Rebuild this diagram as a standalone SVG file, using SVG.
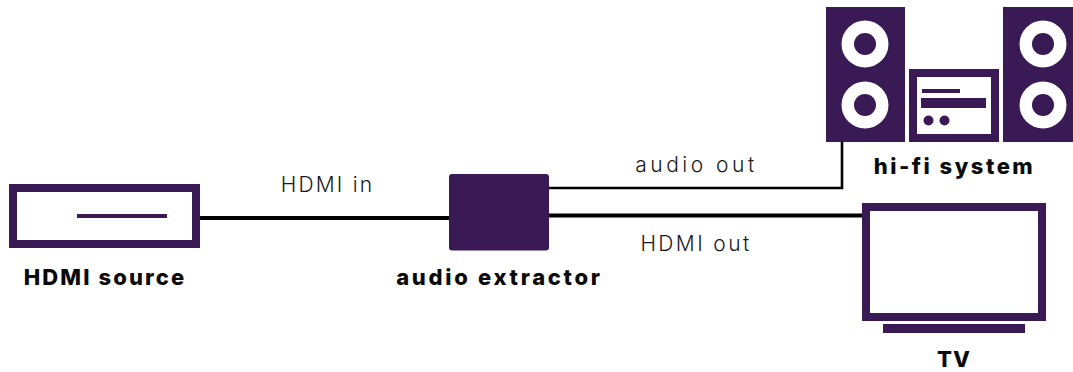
<svg xmlns="http://www.w3.org/2000/svg" width="1073" height="372" viewBox="0 0 1073 372">
<style>
.p{fill:#3a1a54}
.w{fill:#fff}
.f{fill:#fff;stroke:#3a1a54;stroke-width:8}
.b{font-family:"Inter","Liberation Sans",sans-serif;font-weight:800;font-size:22px;fill:#0a0a0a;text-anchor:middle}
.l{font-family:"Inter","Liberation Sans",sans-serif;font-weight:300;font-size:21px;fill:#1a1a1a;text-anchor:middle}
.c{fill:none;stroke:#000}
</style>
<g id="connectors">
<path class="c" stroke-width="4" d="M200 218H449"/>
<path class="c" stroke-width="2.6" d="M549 188H842V142"/>
<path class="c" stroke-width="4" d="M549 215.500H863"/>
</g>
<g id="hdmi-source">
<rect class="f" x="13" y="188" width="183" height="56"/>
<rect class="p" x="77" y="214" width="90" height="4"/>
<text class="b" x="105" y="285" letter-spacing="2.100">HDMI source</text>
</g>
<g id="audio-extractor">
<rect class="p" x="449" y="174" width="100" height="76.500" rx="3"/>
<text class="b" x="499.500" y="285" letter-spacing="2.700">audio extractor</text>
</g>
<g id="hifi-system">
<rect class="p" x="826" y="7" width="79" height="135"/>
<circle class="w" cx="865" cy="44" r="23.500"/><circle class="p" cx="865" cy="44" r="11"/>
<circle class="w" cx="865" cy="105" r="23.500"/><circle class="p" cx="865" cy="105" r="11"/>
<rect class="p" x="1003" y="7" width="70" height="135"/>
<circle class="w" cx="1043" cy="44" r="23.500"/><circle class="p" cx="1043" cy="44" r="11"/>
<circle class="w" cx="1043" cy="105" r="23.500"/><circle class="p" cx="1043" cy="105" r="11"/>
<rect class="f" x="913" y="73" width="82" height="65"/>
<rect class="p" x="922" y="89" width="38" height="4"/>
<rect class="p" x="921" y="98" width="65" height="10"/>
<circle class="p" cx="928.500" cy="120.500" r="5"/><circle class="p" cx="944.500" cy="120.500" r="5"/>
<text class="b" x="954.500" y="174" letter-spacing="2.500">hi-fi system</text>
</g>
<g id="tv">
<rect class="f" x="866" y="207" width="176" height="110"/>
<rect class="p" x="883" y="324" width="142" height="9"/>
<text class="b" x="954" y="367" letter-spacing="1">TV</text>
</g>
<g id="labels">
<text class="l" x="327.500" y="192" letter-spacing="2.200">HDMI in</text>
<text class="l" x="696.500" y="172" letter-spacing="3.500">audio out</text>
<text class="l" x="696" y="251" letter-spacing="2.400">HDMI out</text>
</g>
</svg>
